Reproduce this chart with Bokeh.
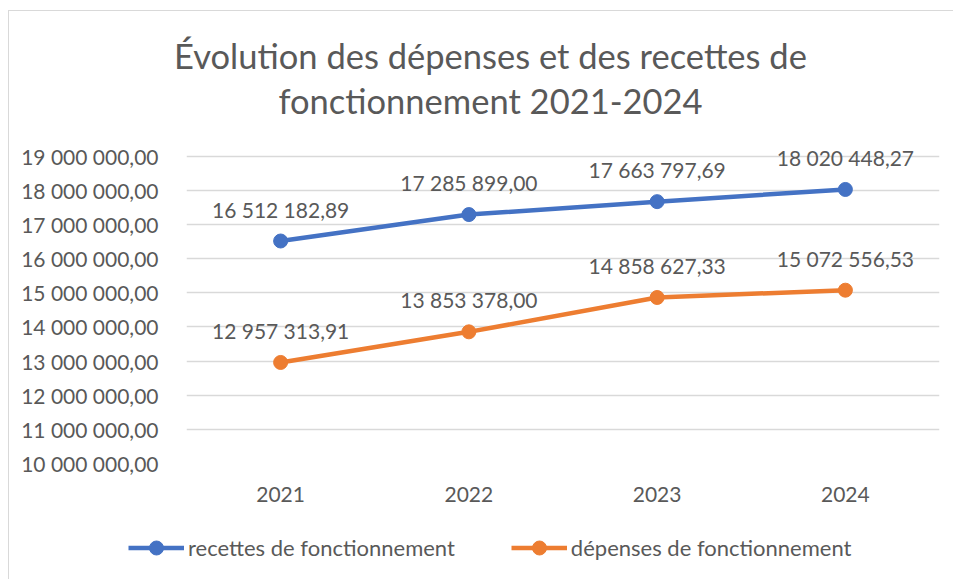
from bokeh.plotting import figure
from bokeh.layouts import column
from bokeh.models import ColumnDataSource, Legend, LegendItem, Label, FixedTicker, Range1d
from bokeh.core.properties import value
from bokeh.embed import file_html
from bokeh.resources import INLINE

years = ["2021", "2022", "2023", "2024"]
recettes = [16512182.89, 17285899.00, 17663797.69, 18020448.27]
depenses = [12957313.91, 13853378.00, 14858627.33, 15072556.53]
y_ticks = [10000000, 11000000, 12000000, 13000000, 14000000, 15000000,
           16000000, 17000000, 18000000, 19000000]
title_lines = ["Évolution des dépenses et des recettes de", "fonctionnement 2021-2024"]
series_names = ["recettes de fonctionnement", "dépenses de fonctionnement"]

def fr(v):
    return f"{v:,.2f}".replace(",", " ").replace(".", ",")

FONT = "Lato"
GREY = "#595959"
BLUE = "#4472C4"
ORANGE = "#ED7D31"
W = 944

def blank_fig(h):
    f = figure(width=W, height=h, x_range=Range1d(0, 1), y_range=Range1d(0, 1),
               output_backend="svg", toolbar_location=None,
               x_axis_location=None, y_axis_location=None, min_border=0)
    f.frame_align = False
    f.grid.visible = False
    f.outline_line_color = None
    f.border_fill_color = "white"
    f.background_fill_color = "white"
    return f

# --- title ---
tf = blank_fig(110)
for t, yy in zip(title_lines, [66, 21]):
    tf.add_layout(Label(x=481, y=yy, x_units="screen", y_units="screen", text=t,
                        text_align="center", text_baseline="middle", text_font=FONT,
                        text_font_size="34.5px", text_color=GREY))

# --- main chart ---
p = figure(width=W, height=399, x_range=years, y_range=Range1d(10000000, 19600000),
           output_backend="svg", toolbar_location=None,
           min_border_left=177, min_border_right=14, min_border_top=14, min_border_bottom=57)
p.x_range.range_padding = 0
p.outline_line_color = None
p.background_fill_color = "white"
p.border_fill_color = "white"
p.xgrid.grid_line_color = None
p.ygrid.grid_line_color = "#d9d9d9"
p.ygrid.grid_line_width = 1.5
p.yaxis.ticker = FixedTicker(ticks=y_ticks)
p.yaxis.major_label_overrides = {t: fr(t) for t in y_ticks}
for ax in (p.xaxis, p.yaxis):
    ax.axis_line_color = None
    ax.major_tick_line_color = None
    ax.minor_tick_line_color = None
    ax.major_label_text_font = FONT
    ax.major_label_text_font_size = "21px"
    ax.major_label_text_color = GREY
p.yaxis.major_label_standoff = 22
p.xaxis.major_label_standoff = 17

for vals, color in ((recettes, BLUE), (depenses, ORANGE)):
    src = ColumnDataSource(dict(x=years, y=vals, lab=[fr(v) for v in vals]))
    p.line("x", "y", source=src, line_color=color, line_width=4.5)
    p.scatter("x", "y", source=src, size=14, fill_color=color, line_color=color)
    p.text("x", "y", text="lab", source=src, y_offset=-32, text_align="center",
           text_baseline="middle", text_font=value(FONT), text_font_size="21px", text_color=GREY)

# --- legend (proxy renderers hold no visible data) ---
lf = blank_fig(59)
items = []
nan = float("nan")
for color, name in ((BLUE, series_names[0]), (ORANGE, series_names[1])):
    ln = lf.line(x=[nan], y=[nan], line_color=color, line_width=4.5)
    sc = lf.scatter(x=[nan], y=[nan], size=14, fill_color=color, line_color=color)
    items.append(LegendItem(label=name, renderers=[ln, sc]))
legend = Legend(items=items, orientation="horizontal", location=(119, 14),
                label_text_font=FONT, label_text_font_size="22px", label_text_color=GREY,
                glyph_width=56, glyph_height=35, spacing=56, padding=0, margin=0,
                label_standoff=4, border_line_color=None, background_fill_alpha=0)
lf.add_layout(legend, "center")

layout = column(tf, p, lf, spacing=0)
layout.styles = {"margin-left": "8px", "margin-top": "10px",
                 "border-left": "1px solid #d9d9d9", "border-top": "1px solid #d9d9d9"}

open("out.html", "w").write(file_html(layout, INLINE))
